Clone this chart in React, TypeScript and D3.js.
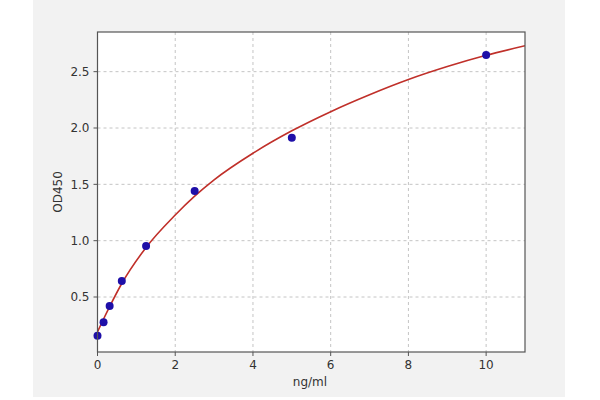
import React from "react";
import * as d3 from "d3";

const concentrations = [0, 0.156, 0.3125, 0.625, 1.25, 2.5, 5, 10];
const odValues = [0.156, 0.276, 0.42, 0.642, 0.953, 1.44, 1.914, 2.648];

const curveX = [0, 0.156, 0.3125, 0.625, 1.25, 2, 2.5, 3, 4, 5, 6, 7, 8, 9, 10, 11];
const curveY = [0.19, 0.305, 0.415, 0.62, 0.94, 1.228, 1.395, 1.54, 1.776, 1.975, 2.145, 2.295, 2.43, 2.545, 2.645, 2.73];

const xTicks = [0, 2, 4, 6, 8, 10];
const yTicks = [0.5, 1.0, 1.5, 2.0, 2.5];

const W = 600;
const H = 400;
const left = 97.5;
const right = 525;
const top = 32;
const bottom = 352;

export default function App() {
  const x = d3.scaleLinear().domain([0, 11]).range([left, right]);
  const y = d3.scaleLinear().domain([0.012, 2.852]).range([bottom, top]);
  const line = d3
    .line<number>()
    .x((_, i) => x(curveX[i]))
    .y((d) => y(d))
    .curve(d3.curveMonotoneX);
  const font = "DejaVu Sans, sans-serif";
  return (
    <svg
      width={W}
      height={H}
      style={{ position: "absolute", left: 0, top: 0 }}
      fontFamily={font}
    >
      <rect x={0} y={0} width={W} height={H} fill="#ffffff" />
      <rect x={33} y={0} width={532} height={397} fill="#f2f2f2" />
      <rect x={left} y={top} width={right - left} height={bottom - top} fill="#ffffff" />
      <defs>
        <clipPath id="plotclip">
          <rect x={left} y={top} width={right - left} height={bottom - top} />
        </clipPath>
      </defs>
      {xTicks.map((t) => (
        <line
          key={"gx" + t}
          x1={x(t)}
          x2={x(t)}
          y1={top}
          y2={bottom}
          stroke="#c4c4c4"
          strokeWidth={1}
          strokeDasharray="3,3"
        />
      ))}
      {yTicks.map((t) => (
        <line
          key={"gy" + t}
          x1={left}
          x2={right}
          y1={y(t)}
          y2={y(t)}
          stroke="#c4c4c4"
          strokeWidth={1}
          strokeDasharray="3,3"
        />
      ))}
      <g clipPath="url(#plotclip)">
        <path d={line(curveY) || ""} fill="none" stroke="#c0302a" strokeWidth={1.6} />
      </g>
      {concentrations.map((c, i) => (
        <circle key={"p" + i} cx={x(c)} cy={y(odValues[i])} r={4} fill="#1e0fa8" />
      ))}
      <rect
        x={left}
        y={top}
        width={right - left}
        height={bottom - top}
        fill="none"
        stroke="#555555"
        strokeWidth={1.2}
      />
      {xTicks.map((t) => (
        <g key={"tx" + t}>
          <line x1={x(t)} x2={x(t)} y1={bottom} y2={bottom + 4} stroke="#555555" />
          <text
            x={x(t)}
            y={bottom + 17}
            textAnchor="middle"
            fontSize={12}
            fill="#333333"
          >
            {t}
          </text>
        </g>
      ))}
      {yTicks.map((t) => (
        <g key={"ty" + t}>
          <line x1={left - 4} x2={left} y1={y(t)} y2={y(t)} stroke="#555555" />
          <text
            x={left - 8}
            y={y(t)}
            dy="0.35em"
            textAnchor="end"
            fontSize={12}
            fill="#333333"
          >
            {t.toFixed(1)}
          </text>
        </g>
      ))}
      <text x={310} y={386} textAnchor="middle" fontSize={12} fill="#333333">
        ng/ml
      </text>
      <text
        transform={`translate(62, ${(top + bottom) / 2}) rotate(-90)`}
        textAnchor="middle"
        fontSize={12}
        fill="#333333"
      >
        OD450
      </text>
    </svg>
  );
}
